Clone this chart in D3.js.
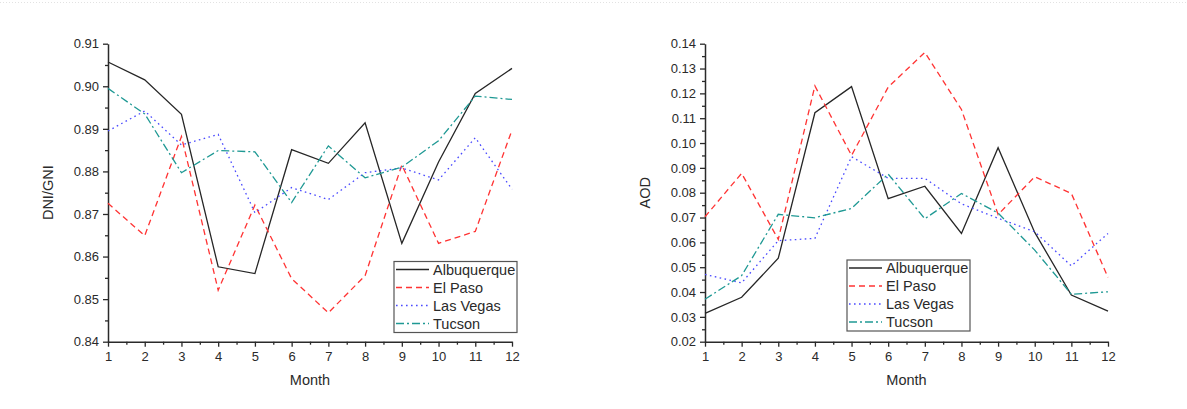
<!DOCTYPE html>
<html>
<head>
<meta charset="utf-8">
<script src="https://cdn.jsdelivr.net/npm/d3@7/dist/d3.min.js"></script>
<style>
  html, body { margin: 0; padding: 0; background: #ffffff; }
  svg { display: block; font-family: Arial, "Liberation Sans", sans-serif; }
</style>
</head>
<body>
<svg id="chart" width="1187" height="409"></svg>
<script>
// Monthly ratios and aerosol optical depth for four south-western cities
const months = [1, 2, 3, 4, 5, 6, 7, 8, 9, 10, 11, 12];
const cities = ["Albuquerque", "El Paso", "Las Vegas", "Tucson"];

const dniAlbuquerque = [0.9057, 0.9015, 0.8934, 0.8576, 0.8560, 0.8851, 0.8819, 0.8914, 0.8631, 0.8822, 0.8983, 0.9042];
const dniElPaso      = [0.8725, 0.8649, 0.8882, 0.8521, 0.8721, 0.8548, 0.8468, 0.8555, 0.8815, 0.8631, 0.8659, 0.8897];
const dniLasVegas    = [0.8895, 0.8942, 0.8862, 0.8887, 0.8703, 0.8762, 0.8734, 0.8797, 0.8808, 0.8780, 0.8879, 0.8758];
const dniTucson      = [0.8995, 0.8935, 0.8797, 0.8849, 0.8846, 0.8727, 0.8860, 0.8785, 0.8810, 0.8872, 0.8977, 0.8969];

const aodAlbuquerque = [0.0314, 0.0379, 0.0536, 0.1122, 0.1227, 0.0776, 0.0826, 0.0636, 0.0981, 0.0640, 0.0388, 0.0323];
const aodElPaso      = [0.0703, 0.0878, 0.0612, 0.1230, 0.0950, 0.1225, 0.1365, 0.1135, 0.0712, 0.0864, 0.0797, 0.0459];
const aodLasVegas    = [0.0471, 0.0437, 0.0607, 0.0616, 0.0945, 0.0858, 0.0858, 0.0755, 0.0697, 0.0643, 0.0505, 0.0636];
const aodTucson      = [0.0371, 0.0466, 0.0713, 0.0699, 0.0737, 0.0875, 0.0695, 0.0797, 0.0718, 0.0569, 0.0391, 0.0401];

const dniTicks = [0.84, 0.85, 0.86, 0.87, 0.88, 0.89, 0.90, 0.91];
const aodTicks = [0.02, 0.03, 0.04, 0.05, 0.06, 0.07, 0.08, 0.09, 0.10, 0.11, 0.12, 0.13, 0.14];

// Line styles per city
const styles = [
  { color: "#262626", dash: null },
  { color: "#ff3333", dash: "6,4" },
  { color: "#4a4aff", dash: "1.6,3.4" },
  { color: "#1f9994", dash: "8,3,2,3" }
];

const svg = d3.select("#chart");
const ink = "#2a2a2a";

// faint dotted frame edge along the top
svg.append("line")
  .attr("x1", 0).attr("x2", 1187).attr("y1", 2.5).attr("y2", 2.5)
  .attr("stroke", "#e2e2e2").attr("stroke-dasharray", "1,2");

function drawPanel(cfg) {
  const g = svg.append("g");
  const x = d3.scaleLinear().domain([1, 12]).range([cfg.x0, cfg.x1]);
  const y = d3.scaleLinear().domain([cfg.ticks[0], cfg.ticks[cfg.ticks.length - 1]]).range([cfg.y1, cfg.y0]);

  // minor ticks
  const yMinor = d3.range(cfg.ticks.length - 1).map(i => (cfg.ticks[i] + cfg.ticks[i + 1]) / 2);
  const xMinor = d3.range(months.length - 1).map(i => months[i] + 0.5);

  const xMin = g.append("g").attr("transform", `translate(0,${cfg.y1})`)
    .call(d3.axisBottom(x).tickValues(xMinor).tickSize(3).tickSizeOuter(0).tickFormat(""));
  const yMin = g.append("g").attr("transform", `translate(${cfg.x0},0)`)
    .call(d3.axisLeft(y).tickValues(yMinor).tickSize(3).tickSizeOuter(0).tickFormat(""));
  [xMin, yMin].forEach(a => { a.select(".domain").remove(); a.selectAll("line").attr("stroke", ink).attr("stroke-width", 1.3); });

  const xAx = g.append("g").attr("transform", `translate(0,${cfg.y1})`)
    .call(d3.axisBottom(x).tickValues(months).tickSize(5).tickSizeOuter(0).tickPadding(5).tickFormat(d3.format("d")));
  const yAx = g.append("g").attr("transform", `translate(${cfg.x0},0)`)
    .call(d3.axisLeft(y).tickValues(cfg.ticks).tickSize(5).tickSizeOuter(0).tickPadding(4).tickFormat(d3.format(".2f")));
  [xAx, yAx].forEach(a => {
    a.select(".domain").attr("stroke", ink).attr("stroke-width", 1.5);
    a.selectAll("line").attr("stroke", ink).attr("stroke-width", 1.3);
    a.selectAll("text").attr("fill", ink).attr("font-size", 13)
      .attr("font-family", "Arial, 'Liberation Sans', sans-serif");
  });

  // series lines
  const line = d3.line().x((d, i) => x(months[i])).y(d => y(d));
  cfg.series.forEach((s, i) => {
    g.append("path").datum(s)
      .attr("fill", "none")
      .attr("stroke", styles[i].color)
      .attr("stroke-width", 1.3)
      .attr("stroke-dasharray", styles[i].dash)
      .attr("stroke-linejoin", "miter")
      .attr("d", line);
  });

  // axis titles
  g.append("text")
    .attr("x", (cfg.x0 + cfg.x1) / 2).attr("y", 385)
    .attr("text-anchor", "middle").attr("font-size", 14.5).attr("fill", ink)
    .text("Month");
  g.append("text")
    .attr("transform", `translate(${cfg.x0 - 55},${(cfg.y0 + cfg.y1) / 2}) rotate(-90)`)
    .attr("text-anchor", "middle").attr("font-size", 14.5).attr("fill", ink)
    .text(cfg.ylabel);

  // legend
  const lg = g.append("g").attr("transform", `translate(${cfg.lx},${cfg.ly})`);
  lg.append("rect").attr("x", 0).attr("y", 0).attr("width", 123).attr("height", 71)
    .attr("fill", "#ffffff").attr("stroke", "#555").attr("stroke-width", 1.2);
  cities.forEach((c, i) => {
    const yy = 8 + i * 18;
    lg.append("line").attr("x1", 2).attr("x2", 35).attr("y1", yy).attr("y2", yy)
      .attr("stroke", styles[i].color).attr("stroke-width", 1.3)
      .attr("stroke-dasharray", styles[i].dash);
    lg.append("text").attr("x", 39).attr("y", yy + 5)
      .attr("font-size", 14.5).attr("fill", ink).text(c);
  });
}

drawPanel({
  x0: 108, x1: 512, y0: 43.7, y1: 341.7,
  ticks: dniTicks, ylabel: "DNI/GNI",
  series: [dniAlbuquerque, dniElPaso, dniLasVegas, dniTucson],
  lx: 394, ly: 261.5
});

drawPanel({
  x0: 705, x1: 1108, y0: 43.7, y1: 341.7,
  ticks: aodTicks, ylabel: "AOD",
  series: [aodAlbuquerque, aodElPaso, aodLasVegas, aodTucson],
  lx: 847, ly: 260
});
</script>
</body>
</html>
